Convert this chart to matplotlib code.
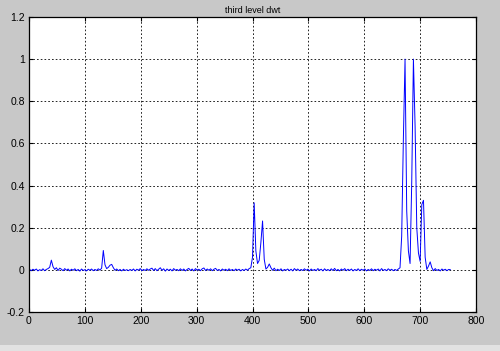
import matplotlib
matplotlib.use('Agg')
import matplotlib.pyplot as plt
from matplotlib.ticker import FuncFormatter
from matplotlib.patches import Rectangle
import numpy as np

# sample positions (third level dwt coefficients, every 3rd sample)
x_vals = list(range(1, 755, 3))

# coefficient values, 12 samples per row
y_vals = [
    0.002, -0.004, 0.003, -0.002, 0.004, -0.005, 0.001, -0.003, 0.005, -0.004, 0.002, 0.006,    # 1..34
    0.012, 0.046, 0.015, 0.002, 0.010, -0.003, 0.008, 0.003, -0.004, 0.006, -0.002, 0.004,     # 37..70
    -0.005, 0.003, -0.002, 0.005, -0.004, 0.002, -0.006, 0.004, -0.003, 0.001, -0.005, 0.003,  # 73..106
    -0.002, 0.004, -0.004, 0.002, -0.003, 0.005, -0.001, 0.008, 0.092, 0.024, 0.006, 0.012,    # 109..142
    0.022, 0.026, 0.010, -0.002, 0.004, -0.004, 0.002, -0.005, 0.003, -0.003, 0.001, -0.004,   # 145..178
    0.002, -0.003, 0.004, -0.005, 0.003, -0.002, 0.006, -0.004, 0.002, -0.003, 0.005, -0.002,  # 181..214
    0.004, 0.008, -0.003, 0.006, -0.004, 0.003, 0.010, -0.002, 0.005, -0.006, 0.004, -0.003,   # 217..250
    0.003, -0.005, 0.006, -0.002, 0.002, -0.004, 0.005, -0.003, 0.004, -0.005, 0.002, 0.007,   # 253..286
    -0.003, 0.004, -0.005, 0.006, -0.002, 0.003, -0.004, 0.005, 0.009, -0.003, 0.004, -0.002,  # 289..322
    0.005, -0.004, 0.003, 0.007, -0.003, 0.002, -0.005, 0.004, -0.002, 0.003, -0.004, 0.005,   # 325..358
    -0.003, 0.002, -0.004, 0.004, -0.002, 0.003, -0.005, 0.002, -0.003, 0.004, -0.002, 0.006,  # 361..394
    0.010, 0.060, 0.318, 0.090, 0.030, 0.045, 0.130, 0.232, 0.050, 0.004, 0.012, 0.028,        # 397..430
    0.010, -0.002, 0.008, -0.004, 0.003, -0.003, 0.005, -0.005, 0.002, -0.002, 0.004, -0.004,  # 433..466
    0.003, -0.005, 0.006, -0.002, 0.004, -0.004, 0.002, -0.003, 0.005, -0.002, 0.003, -0.005,  # 469..502
    0.004, -0.003, 0.002, -0.004, 0.006, -0.002, 0.003, -0.005, 0.005, -0.003, 0.002, -0.004,  # 505..538
    0.005, -0.003, 0.007, -0.004, 0.002, -0.005, 0.004, -0.002, 0.006, -0.004, 0.003, -0.003,  # 541..574
    0.004, -0.005, 0.002, -0.003, 0.005, -0.004, 0.003, -0.002, 0.004, -0.005, 0.002, -0.003,  # 577..610
    0.005, -0.004, 0.003, -0.002, 0.004, -0.005, 0.006, -0.003, 0.002, -0.004, 0.005, -0.002,  # 613..646
    0.003, -0.004, 0.002, -0.003, 0.004, 0.010, 0.160, 0.620, 1.000, 0.280, 0.090, 0.030,      # 649..682
    0.420, 1.000, 0.680, 0.200, 0.080, 0.040, 0.310, 0.330, 0.060, 0.002, 0.018, 0.038,        # 685..718
    0.010, -0.004, 0.006, -0.003, 0.002, -0.005, 0.004, -0.002, 0.003, -0.004, 0.002, 0.001,   # 721..754
]

x_ticks = [0, 100, 200, 300, 400, 500, 600, 700, 800]
y_ticks = [-0.2, 0, 0.2, 0.4, 0.6, 0.8, 1, 1.2]

bg = '#c8c8c8'
plt.rcParams['font.family'] = ['Liberation Sans', 'DejaVu Sans']

fig = plt.figure(figsize=(5, 3.51), dpi=100, facecolor=bg)
# lighter strip along the bottom edge of the window
fig.patches.append(Rectangle((0, 0), 1, 6 / 351, transform=fig.transFigure,
                             facecolor='#e2e2e2', edgecolor='none', zorder=0))

ax = fig.add_axes([29 / 500, 1 - 312 / 351, 447 / 500, 295 / 351])
ax.set_facecolor('white')
ax.plot(x_vals, y_vals, color='#0000ff', linewidth=0.7)

ax.set_xlim(0, 800)
ax.set_ylim(-0.2, 1.2)
ax.set_xticks(x_ticks)
ax.set_yticks(y_ticks)
ax.yaxis.set_major_formatter(FuncFormatter(lambda v, p: f'{round(v, 1):g}'))
ax.tick_params(direction='in', length=3, width=0.8, labelsize=7.5, pad=3,
               top=True, right=True, colors='black')
ax.grid(True, color='black', linestyle=(0, (2, 2.5)), linewidth=0.6)
for s in ax.spines.values():
    s.set_linewidth(0.9)
    s.set_color('black')

ax.set_title('third level dwt', fontsize=6.5, pad=3)

fig.savefig('out.png', dpi=100, facecolor=bg)
